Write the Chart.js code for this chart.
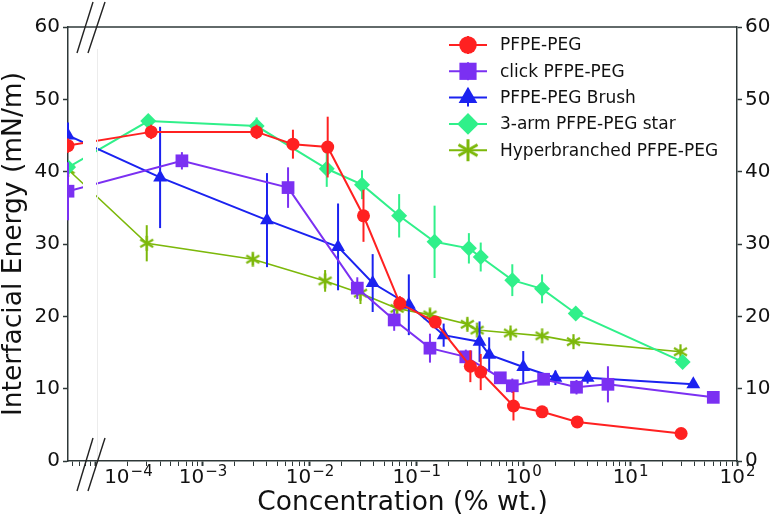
<!DOCTYPE html>
<html>
<head>
<meta charset="utf-8">
<script src="https://cdn.jsdelivr.net/npm/chart.js@4.4.1/dist/chart.umd.min.js"></script>
<style>
  html, body { margin: 0; padding: 0; background: #fff; }
  canvas { display: block; }
</style>
</head>
<body>
<canvas id="iftChart" width="774" height="520"></canvas>
<script>
// Interfacial energy vs. concentration, five PFPE-PEG surfactants
// concentration 0 is drawn on the stub left of the axis break

const seriesNames = ['PFPE-PEG', 'click PFPE-PEG', 'PFPE-PEG Brush', '3-arm PFPE-PEG star', 'Hyperbranched PFPE-PEG'];

const pfpeConc = [0, 3.3e-4, 3.2e-3, 7e-3, 0.0148, 0.032, 0.070, 0.15, 0.32, 0.40, 0.81, 1.5, 3.2, 30];
const pfpeIft  = [43.6, 45.5, 45.5, 43.8, 43.4, 33.9, 21.8, 19.2, 13.1, 12.3, 7.6, 6.8, 5.4, 3.8];
const pfpeErr  = [1.0, 1.0, 1.0, 2.0, 4.2, 3.6, 1.0, 0.8, 2.2, 2.5, 2.0, 0.5, 0.4, 0.3];

const clickConc = [0, 6.4e-4, 6.3e-3, 0.028, 0.062, 0.134, 0.29, 0.61, 0.79, 1.55, 3.15, 6.2, 60];
const clickIft  = [37.3, 41.5, 37.8, 23.9, 19.5, 15.6, 14.4, 11.5, 10.4, 11.3, 10.2, 10.6, 8.8];
const clickErr  = [4.0, 1.2, 2.8, 1.5, 1.5, 2.0, 1.0, 0.8, 1.0, 0.8, 1.0, 2.5, 0.3];

const brushConc = [0, 4e-4, 4e-3, 0.0185, 0.039, 0.085, 0.18, 0.39, 0.48, 1.0, 2.0, 4.0, 39];
const brushIft  = [45.0, 39.2, 33.3, 29.6, 24.6, 21.6, 17.4, 16.5, 14.7, 13.0, 11.5, 11.5, 10.6];
const brushErr  = [1.8, 7.0, 6.5, 6.0, 4.0, 4.2, 1.6, 2.8, 2.4, 2.2, 1.0, 0.8, 0.3];

const starConc = [0, 3.1e-4, 3.2e-3, 0.0145, 0.031, 0.069, 0.148, 0.31, 0.40, 0.79, 1.5, 3.1, 31];
const starIft  = [40.6, 47.0, 46.3, 40.4, 38.2, 33.9, 30.3, 29.4, 28.2, 25.0, 23.8, 20.4, 13.7];
const starErr  = [0.5, 0.6, 1.2, 2.5, 2.0, 3.0, 5.0, 2.1, 2.0, 2.2, 2.0, 0.6, 0.4];

const hyperConc = [0, 3e-4, 2.95e-3, 0.014, 0.030, 0.066, 0.134, 0.30, 0.37, 0.76, 1.5, 2.95, 29.6];
const hyperIft  = [40.3, 30.1, 27.9, 24.9, 23.2, 21.1, 20.2, 18.9, 18.1, 17.7, 17.3, 16.5, 15.1];
const hyperErr  = [0.4, 2.5, 0.8, 1.5, 1.5, 0.8, 0.8, 0.8, 0.6, 0.6, 0.5, 0.5, 0.4];

const yTicks = [0, 10, 20, 30, 40, 50, 60];
// [tick value, exponent]; the 10^-4 label sits right of its tick, clear of the axis break
const xTickLabels = [[2e-4, '−4'], [1e-3, '−3'], [1e-2, '−2'], [1e-1, '−1'], [1, '0'], [10, '1'], [100, '2']];

const X_MIN = 5.5e-5;   // left edge = position of the "0 %" stub
const X_MAX = 100;

const colors = ['#ff2121', '#7b30f2', '#1b22f0', '#30f08a', '#7cb80a'];
const axisColor = '#2e3838';
const FONT = "'DejaVu Sans', sans-serif";

Chart.defaults.font.family = FONT;
Chart.defaults.color = '#111';

// six-armed asterisk marker (not a Chart.js built-in)
function makeAsterisk(size, color, lw) {
    const c = document.createElement('canvas');
    c.width = size; c.height = size;
    const g = c.getContext('2d');
    const r = size / 2 - 1;
    g.strokeStyle = color;
    g.lineWidth = lw;
    g.translate(size / 2, size / 2);
    [90, 30, 150].forEach(deg => {
        const a = deg * Math.PI / 180;
        g.beginPath();
        g.moveTo(-Math.cos(a) * r, -Math.sin(a) * r);
        g.lineTo(Math.cos(a) * r, Math.sin(a) * r);
        g.stroke();
    });
    return c;
}

const concs = [pfpeConc, clickConc, brushConc, starConc, hyperConc];
const ifts = [pfpeIft, clickIft, brushIft, starIft, hyperIft];
const errs = [pfpeErr, clickErr, brushErr, starErr, hyperErr];
const styles = ['circle', 'rect', 'triangle', 'rectRot', makeAsterisk(17, colors[4], 2.2)];
const radii = [6.5, 9, 8, 8, 8];
const legendStyles = ['circle', 'rect', 'triangle', 'rectRot', makeAsterisk(24, colors[4], 3)];

const datasets = seriesNames.map((name, i) => ({
    label: name,
    data: concs[i].map((c, j) => ({ x: c === 0 ? X_MIN : c, y: ifts[i][j] })),
    errors: errs[i],
    borderColor: colors[i],
    backgroundColor: colors[i],
    borderWidth: i === 4 ? 1.6 : 2,
    pointStyle: styles[i],
    pointRadius: radii[i],
    pointBorderWidth: 0,
    tension: 0
}));

// vertical error bars, drawn under each series
const errorBars = {
    id: 'errorBars',
    beforeDatasetDraw(chart, args) {
        const { ctx, chartArea } = chart;
        const ds = chart.data.datasets[args.index];
        const y = chart.scales.y;
        ctx.save();
        ctx.beginPath();
        ctx.rect(chartArea.left - 1, chartArea.top, chartArea.right - chartArea.left + 2, chartArea.bottom - chartArea.top);
        ctx.clip();
        ctx.strokeStyle = ds.borderColor;
        ctx.lineWidth = 2;
        args.meta.data.forEach((pt, j) => {
            const v = ds.data[j].y, e = ds.errors[j];
            ctx.beginPath();
            ctx.moveTo(pt.x, y.getPixelForValue(v - e));
            ctx.lineTo(pt.x, y.getPixelForValue(v + e));
            ctx.stroke();
        });
        ctx.restore();
    }
};

// axis break, top frame line, power-of-ten labels and the legend
const frameAndLegend = {
    id: 'frameAndLegend',
    afterDatasetsDraw(chart) {
        const { ctx, chartArea: a } = chart;
        ctx.save();
        ctx.fillStyle = '#fff';
        ctx.fillRect(a.left + 15, a.top + 1, 13, a.bottom - a.top - 2);
        ctx.strokeStyle = '#ececec';
        ctx.lineWidth = 1;
        ctx.beginPath();
        ctx.moveTo(a.left + 29.5, a.top + 22);
        ctx.lineTo(a.left + 29.5, a.bottom);
        ctx.stroke();
        ctx.restore();
    },
    afterDraw(chart) {
        const { ctx, chartArea: a } = chart;
        const xs = chart.scales.x;
        ctx.save();
        ctx.strokeStyle = axisColor;
        ctx.lineWidth = 1.5;
        ctx.beginPath();
        ctx.moveTo(a.left, a.top);
        ctx.lineTo(a.right, a.top);
        ctx.stroke();

        // "//" break marks
        ctx.lineWidth = 1.4;
        ctx.strokeStyle = '#222';
        [[a.top + 26, a.top - 25], [a.bottom + 30, a.bottom - 23]].forEach(([y0, y1]) => {
            [[9, 25], [20, 37]].forEach(([x0, x1]) => {
                ctx.beginPath();
                ctx.moveTo(a.left + x0, y0);
                ctx.lineTo(a.left + x1, y1);
                ctx.stroke();
            });
        });

        // x tick labels with real superscripts
        ctx.fillStyle = '#111';
        ctx.textBaseline = 'alphabetic';
        ctx.textAlign = 'left';
        xTickLabels.forEach(([v, exp]) => {
            const px = xs.getPixelForValue(v);
            ctx.font = '20px ' + FONT;
            const wBase = ctx.measureText('10').width;
            ctx.font = '15px ' + FONT;
            const wExp = ctx.measureText(exp).width;
            const x0 = px - (wBase + wExp) / 2;
            ctx.font = '20px ' + FONT;
            ctx.fillText('10', x0, a.bottom + 22);
            ctx.font = '15px ' + FONT;
            ctx.fillText(exp, x0 + wBase + 1, a.bottom + 15);
        });

        // legend
        const lx = a.right - 288, ly = a.top + 18, step = 26.3;
        chart.data.datasets.forEach((ds, i) => {
            const y = ly + i * step;
            ctx.strokeStyle = ds.borderColor;
            ctx.fillStyle = ds.borderColor;
            ctx.lineWidth = 2;
            ctx.beginPath();
            ctx.moveTo(lx, y);
            ctx.lineTo(lx + 38, y);
            ctx.moveTo(lx + 19, y - 9);
            ctx.lineTo(lx + 19, y + 9);
            ctx.stroke();
            Chart.helpers.drawPoint(ctx, {
                pointStyle: legendStyles[i],
                radius: radii[i] * 1.35,
                rotation: 0,
                borderWidth: 0
            }, lx + 19, y);
            ctx.fillStyle = '#111';
            ctx.font = '17px ' + FONT;
            ctx.textBaseline = 'middle';
            ctx.fillText(ds.label, lx + 51, y + 1);
        });
        ctx.restore();
    }
};

const yTickOpts = {
    stepSize: 10,
    font: { size: 20 },
    color: '#111',
    padding: 3
};

new Chart(document.getElementById('iftChart'), {
    type: 'line',
    data: { datasets },
    options: {
        responsive: false,
        animation: false,
        devicePixelRatio: 1,
        layout: { padding: { top: 27, left: 0, right: 0, bottom: 0 } },
        plugins: {
            legend: { display: false },
            tooltip: { enabled: false }
        },
        scales: {
            x: {
                type: 'logarithmic',
                position: 'bottom',
                min: X_MIN,
                max: X_MAX,
                afterFit: s => { s.height = 59; },
                afterBuildTicks: s => {
                    const ticks = [];
                    for (let e = -5; e <= 2; e++) {
                        for (let m = 1; m <= 9; m++) {
                            const v = m * Math.pow(10, e);
                            if (v >= X_MIN && v <= X_MAX) ticks.push({ value: v, major: m === 1 });
                        }
                    }
                    s.ticks = ticks;
                },
                ticks: {
                    autoSkip: false,
                    maxRotation: 0,
                    font: { size: 20 },
                    padding: 0,
                    callback: () => ''   // labels drawn by the plugin
                },
                grid: {
                    drawOnChartArea: false,
                    tickLength: 5,
                    tickColor: axisColor,
                    tickWidth: c => (c.tick && c.tick.major ? 2 : 1)
                },
                border: { color: axisColor, width: 1.5 },
                title: {
                    display: true,
                    text: 'Concentration (% wt.)',
                    font: { size: 26.5 },
                    color: '#111',
                    padding: { top: 0, bottom: 1 }
                }
            },
            y: {
                position: 'left',
                min: 0,
                max: 60,
                afterFit: s => { s.width = 68; },
                afterBuildTicks: s => { s.ticks = yTicks.map(v => ({ value: v })); },
                ticks: yTickOpts,
                grid: { drawOnChartArea: false, tickLength: 5, tickColor: axisColor, tickWidth: 1.5 },
                border: { color: axisColor, width: 1.5 },
                title: {
                    display: true,
                    text: 'Interfacial Energy (mN/m)',
                    font: { size: 26.5 },
                    color: '#111',
                    padding: { top: -2, bottom: 0 }
                }
            },
            y2: {
                position: 'right',
                min: 0,
                max: 60,
                afterFit: s => { s.width = 37; },
                afterBuildTicks: s => { s.ticks = yTicks.map(v => ({ value: v })); },
                ticks: yTickOpts,
                grid: { drawOnChartArea: false, tickLength: 5, tickColor: axisColor, tickWidth: 1.5 },
                border: { color: axisColor, width: 1.5 }
            }
        }
    },
    plugins: [errorBars, frameAndLegend]
});
</script>
</body>
</html>
